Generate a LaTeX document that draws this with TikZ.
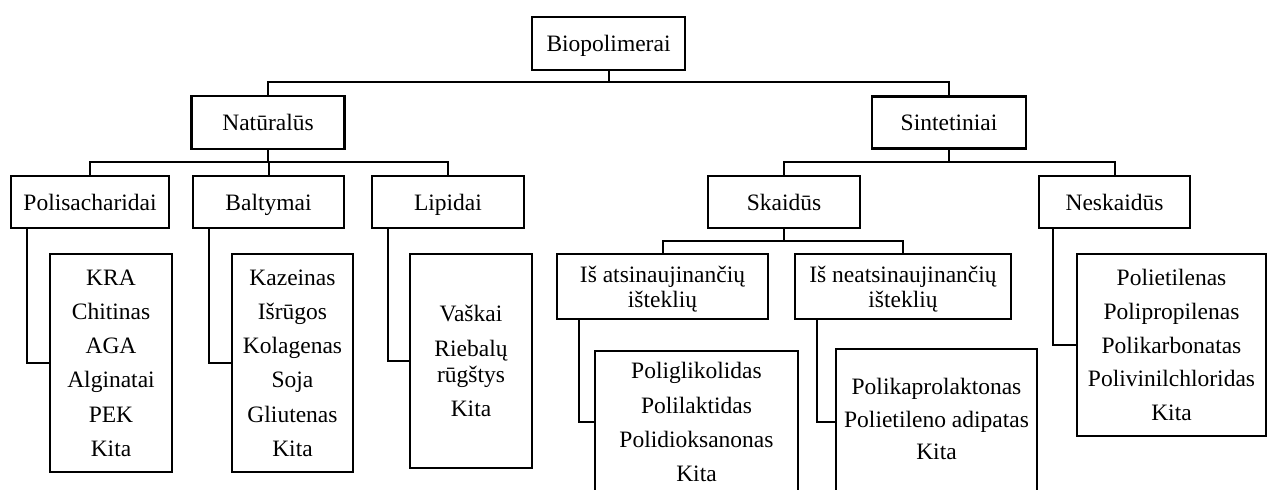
\documentclass[tikz,border=0pt]{standalone}
\usepackage{fontspec}
\setmainfont{Liberation Serif}
\usetikzlibrary{calc}
\begin{document}
\begin{tikzpicture}[x=1pt,y=-1pt,
  box/.style={draw, line width=2.2pt, inner sep=0pt, text depth=0pt, align=center, font=\fontsize{23.5}{25}\selectfont},
  listbox/.style={box, font=\fontsize{23.5}{34.2}\selectfont},
  conn/.style={line width=2pt}]
\useasboundingbox (0,0) rectangle (1267,490);
\clip (0,0) rectangle (1267,490);
% level 0
\node[box, minimum width=153pt, minimum height=53pt] (bio) at (608.5,43.5) {Biopolimerai};
% level 1
\node[box, minimum width=153pt, minimum height=53pt] (nat) at (268,122.5) {Natūralūs};
\node[box, minimum width=154pt, minimum height=52pt] (sin) at (949,122.5) {Sintetiniai};
% level 2
\node[box, minimum width=158pt, minimum height=52pt] (pol) at (90,202) {Polisacharidai};
\node[box, minimum width=151pt, minimum height=52pt] (bal) at (268.5,202) {Baltymai};
\node[box, minimum width=152pt, minimum height=52pt] (lip) at (448,202) {Lipidai};
\node[box, minimum width=152pt, minimum height=52pt] (ska) at (784,202) {Skaidūs};
\node[box, minimum width=151pt, minimum height=52pt] (nes) at (1114.5,202) {Neskaidūs};
% level 3
\node[box, minimum width=211pt, minimum height=65pt] (ia) at (662.5,286.5) {Iš atsinaujinančių\\išteklių};
\node[box, minimum width=216pt, minimum height=65pt] (in) at (903,286.5) {Iš neatsinaujinančių\\išteklių};
% lists
\node[listbox, minimum width=122pt, minimum height=218pt] (kra) at (111,363) {KRA\\Chitinas\\AGA\\Alginatai\\PEK\\Kita};
\node[listbox, minimum width=121pt, minimum height=218pt] (kaz) at (292.5,363) {Kazeinas\\Išrūgos\\Kolagenas\\Soja\\Gliutenas\\Kita};
\node[listbox, minimum width=122pt, minimum height=214pt] (vas) at (471,361) {Vaškai\\Riebalų\\[-8pt]rūgštys\\Kita};
\node[listbox, minimum width=203pt, minimum height=150pt, text depth=8pt, anchor=north] (pg) at (696.5,350) {Poliglikolidas\\Polilaktidas\\Polidioksanonas\\Kita};
\node[box, font=\fontsize{23.5}{32.5}\selectfont, minimum width=201pt, minimum height=152pt, text depth=12pt, anchor=north] (pk) at (936.5,348) {Polikaprolaktonas\\Polietileno adipatas\\Kita};
\node[box, font=\fontsize{23.5}{33.8}\selectfont, minimum width=189pt, minimum height=182pt] (pe) at (1171.5,345) {Polietilenas\\Polipropilenas\\Polikarbonatas\\Polivinilchloridas\\Kita};
% connectors level 0-1
\draw[conn] (bio.south) -- (bio.south |- 0,82);
\draw[conn] (nat.north) -- (nat.north |- 0,82) -- (sin.north |- 0,82) -- (sin.north);
% level 1-2 natural
\draw[conn] (nat.south) -- (nat.south |- 0,162);
\draw[conn] (pol.north) -- (pol.north |- 0,162) -- (lip.north |- 0,162) -- (lip.north);
\draw[conn] (bal.north) -- (bal.north |- 0,162);
% level 1-2 synthetic
\draw[conn] (sin.south) -- (sin.south |- 0,162);
\draw[conn] (ska.north) -- (ska.north |- 0,162) -- (nes.north |- 0,162) -- (nes.north);
% level 2-3
\draw[conn] (ska.south) -- (ska.south |- 0,241);
\draw[conn] (ia.north) -- (ia.north |- 0,241) -- (in.north |- 0,241) -- (in.north);
% side connectors to lists
\draw[conn] (pol.south -| 27,0) |- (kra.west);
\draw[conn] (bal.south -| 209,0) |- (kaz.west);
\draw[conn] (lip.south -| 388,0) |- (vas.west);
\draw[conn] (ia.south -| 579,0) |- ($(pg.north west)+(0,72)$);
\draw[conn] (in.south -| 817,0) |- ($(pk.north west)+(0,74)$);
\draw[conn] (nes.south -| 1053,0) |- (pe.west);
\end{tikzpicture}
\end{document}
